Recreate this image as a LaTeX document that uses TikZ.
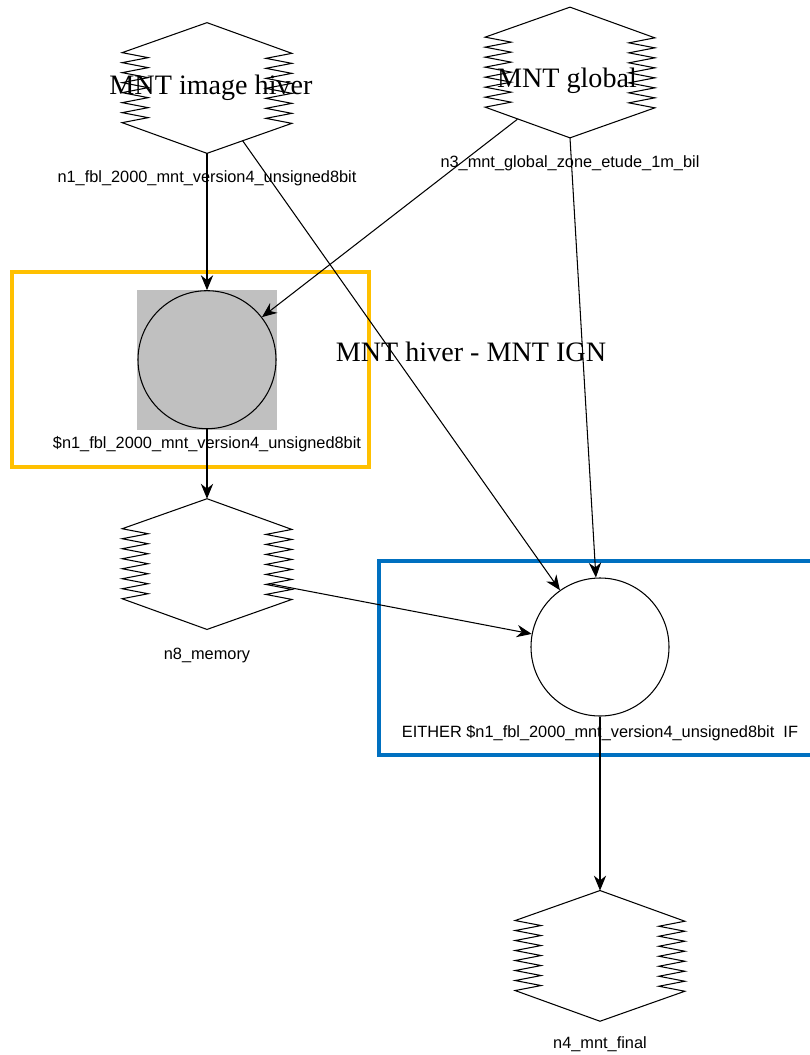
\documentclass[tikz,border=0pt]{standalone}
\usepackage{fontspec}
\usepackage{tikz}
\usetikzlibrary{arrows.meta, positioning, calc}
\usepackage{xcolor}

\newfontfamily\capfont{Liberation Sans}
\newfontfamily\bigfont{Liberation Serif}

\definecolor{hlyellow}{RGB}{255,192,0}
\definecolor{hlblue}{RGB}{0,112,192}
\definecolor{opgray}{RGB}{192,192,192}

% zigzag hexagon drawn round an empty node
\newcommand{\zighex}[1]{%
    \draw[hexline] (#1.north) -- ([yshift=-0.6cm]#1.north west)
        \foreach \k in {1,...,7} { -- ++(0.52,-0.1) -- ++(-0.52,-0.1) }
        -- (#1.south) -- ([yshift=0.6cm]#1.south east)
        \foreach \k in {1,...,7} { -- ++(-0.52,0.1) -- ++(0.52,0.1) }
        -- cycle;
    \coordinate (#1-lb) at ([yshift=0.6cm]#1.south west);
    \coordinate (#1-rb) at ([yshift=0.6cm]#1.south east);
}

\begin{document}
\begin{tikzpicture}[
    data/.style={
        rectangle, inner sep=0pt,
        minimum width=3.38cm, minimum height=2.6cm
    },
    op/.style={
        circle, draw, line width=0.6pt, inner sep=0pt,
        minimum size=2.76cm
    },
    opbox/.style={
        rectangle, fill=opgray, inner sep=0pt,
        minimum size=2.8cm
    },
    hexline/.style={line width=0.6pt, line join=miter},
    caption/.style={font=\capfont\fontsize{9.3}{11}\selectfont, inner sep=0pt},
    bigtext/.style={font=\bigfont\fontsize{16}{19}\selectfont, inner sep=0pt},
    arrow/.style={-{Stealth[length=8.5pt, width=7pt]}, line width=0.6pt},
    mark box/.style={line width=2pt},
]
\useasboundingbox (0,0) rectangle (16.18,-21.10);

% highlight frames
\draw[mark box, hlyellow] (0.24,-5.44) rectangle (7.38,-9.34);
\draw[mark box, hlblue] (16.4,-11.22) -| (7.58,-15.10) -- (16.4,-15.10);

\node[data, label={[bigtext, xshift=0.08cm, yshift=0.0cm]center:MNT image hiver}] (n1) at (4.14,-1.76) {};
\node[data, label={[bigtext, xshift=-0.06cm, yshift=-0.16cm]center:MNT global}] (n3) at (11.40,-1.45) {};
\zighex{n1}
\zighex{n3}

\node[opbox, below=2.72cm of n1] (g1box) {};
\node[op] (g1) at (g1box) {};
\node[data, below=1.39cm of g1] (n8) {};
\zighex{n8}

\node[op] (w1) at (12.00,-12.94) {};
\node[data, below=3.48cm of w1] (n4) {};
\zighex{n4}

\node[caption] (n1cap) at ([yshift=-0.5cm]n1.south) {n1\_fbl\_2000\_mnt\_version4\_unsigned8bit};
\node[caption] (n3cap) at ([yshift=-0.5cm]n3.south) {n3\_mnt\_global\_zone\_etude\_1m\_bil};
\node[caption] (g1cap) at ([yshift=-0.3cm]g1.south) {\$n1\_fbl\_2000\_mnt\_version4\_unsigned8bit};
\node[caption] (n8cap) at ([yshift=-0.52cm]n8.south) {n8\_memory};
\node[caption] (w1cap) at ([yshift=-0.34cm]w1.south) {EITHER \$n1\_fbl\_2000\_mnt\_version4\_unsigned8bit\ \ IF};
\node[caption] (n4cap) at ([yshift=-0.46cm]n4.south) {n4\_mnt\_final};

\node[bigtext] (w1name) at (9.42,-7.04) {MNT hiver - MNT IGN};

\draw[arrow] (n1.south) -- (g1.north);
\draw[arrow] ($(n1.south)!0.42!(n1-rb)$) -- (w1);
\draw[arrow] ($(n3.south)!0.62!(n3-lb)$) -- (g1);
\draw[arrow] (n3.south) -- (w1);
\draw[arrow] (g1.south) -- (n8.north);
\draw[arrow] ([shift={(-0.46,-0.39)}]n8.east) -- (w1);
\draw[arrow] (w1.south) -- (n4.north);

\end{tikzpicture}
\end{document}
